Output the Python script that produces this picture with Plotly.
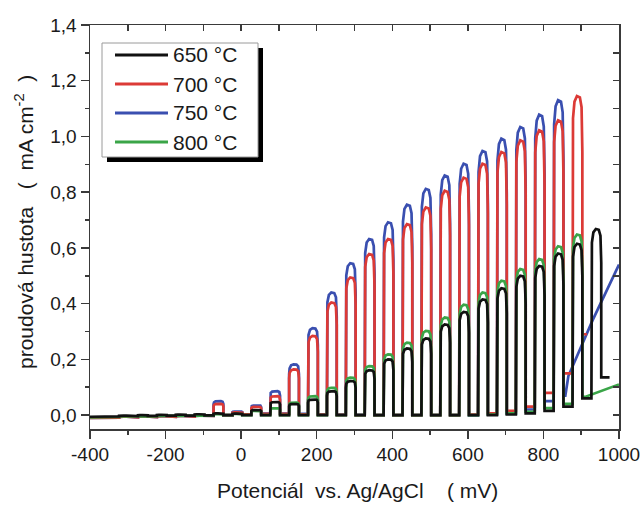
import plotly.graph_objects as go

# ---------------- data ----------------
# centres of the light-on periods of the chopped-light scan (mV vs. Ag/AgCl)
pulse_mv = [-360, -310, -260, -210, -160, -110, -60, -10, 40, 90, 140, 190, 240,
            290, 340, 390, 440, 490, 540, 590, 640, 690, 740, 790, 840, 890, 940]

# 650 °C (black): photocurrent at light-on, dark current before each pulse
black_on = [-0.004, -0.002, 0.0, 0.001, 0.002, 0.003, 0.006, 0.005, 0.018,
            0.047, 0.04, 0.056, 0.086, 0.122, 0.161, 0.2, 0.239, 0.275,
            0.325, 0.37, 0.415, 0.455, 0.5, 0.535, 0.58, 0.615, 0.668]
black_dark = [-0.006, -0.005, -0.004, -0.003, -0.002, -0.002, -0.001, 0.0, 0.0,
              0.0, 0.0, 0.0, 0.0, 0.0, 0.0, 0.0, 0.0, 0.0,
              0.0, 0.0, 0.0, 0.0, 0.002, 0.006, 0.015, 0.03, 0.06]
black_tail_mv = [975]
black_tail = [0.135]

# 700 °C (red)
red_on = [-0.008, -0.006, -0.005, -0.004, -0.003, -0.002, 0.04, 0.01,
          0.03, 0.068, 0.164, 0.284, 0.404, 0.494, 0.578, 0.632, 0.685, 0.745,
          0.805, 0.852, 0.902, 0.944, 0.986, 1.022, 1.058, 1.145]
red_dark = [-0.01, -0.009, -0.008, -0.007, -0.006, -0.005, -0.003, 0.0,
            0.003, 0.004, 0.004, 0.003, 0.002, 0.001, 0.0, 0.0, 0.0, 0.0,
            0.0, 0.0, 0.002, 0.006, 0.015, 0.03, 0.08, 0.15]
red_tail_mv = [915]
red_tail = [0.29]

# 750 °C (blue)
blue_on = [-0.008, -0.006, -0.005, -0.004, -0.003, -0.002, 0.05, 0.013,
           0.035, 0.086, 0.182, 0.312, 0.44, 0.545, 0.632, 0.692, 0.755, 0.812,
           0.86, 0.902, 0.948, 0.992, 1.034, 1.078, 1.13]
blue_dark = [-0.01, -0.009, -0.008, -0.007, -0.006, -0.005, -0.003, 0.0,
             0.003, 0.005, 0.005, 0.004, 0.003, 0.002, 0.001, 0.0, 0.0, 0.0,
             0.0, 0.0, 0.0, 0.002, 0.006, 0.02, 0.05]
blue_tail_mv = [858, 866, 930, 1000]
blue_tail = [0.07, 0.14, 0.34, 0.54]

# 800 °C (green)
green_on = [-0.006, -0.005, -0.004, -0.003, -0.002, -0.001, 0.003, 0.004,
            0.015, 0.025, 0.045, 0.068, 0.098, 0.134, 0.176, 0.218, 0.26, 0.302,
            0.35, 0.396, 0.44, 0.482, 0.524, 0.56, 0.606, 0.648]
green_dark = [-0.008, -0.007, -0.006, -0.005, -0.004, -0.003, -0.002, 0.0,
              0.0, 0.0, 0.0, 0.0, 0.0, 0.0, 0.0, 0.0, 0.0, 0.0,
              0.0, 0.0, 0.0, 0.002, 0.006, 0.012, 0.025, 0.04]
green_tail_mv = [910, 1000]
green_tail = [0.065, 0.11]

series_names = ["650 °C", "700 °C", "750 °C", "800 °C"]
series_colors = ["#111111", "#dc3a36", "#3a4fb0", "#3aa548"]

x_ticks = [-400, -200, 0, 200, 400, 600, 800, 1000]
x_ticktext = ["-400", "-200", "0", "200", "400", "600", "800", "1000"]
y_ticks = [0.0, 0.2, 0.4, 0.6, 0.8, 1.0, 1.2, 1.4]
y_ticktext = ["0,0", "0,2", "0,4", "0,6", "0,8", "1,0", "1,2", "1,4"]

# ---------------- helpers ----------------
SCAN_START = -400
ON_HALF = 13   # half of light-on window, mV
# shape of the photocurrent transient within one light-on window
SHAPE_T = [0.0, 0.05, 0.2, 0.45, 0.75, 0.92, 1.0]
SHAPE_F = [0.8, 0.92, 0.98, 1.0, 0.995, 0.96, 0.8]


def chopped(on, dark, tail_mv, tail_val):
    xs = [SCAN_START]
    ys = [dark[0]]
    n = len(on)
    for i in range(n):
        c = pulse_mv[i]
        p, d = on[i], dark[i]
        left, right = c - ON_HALF, c + ON_HALF
        xs.append(left)
        ys.append(d)
        for t, f in zip(SHAPE_T, SHAPE_F):
            xs.append(left + t * (right - left))
            ys.append(d + f * (p - d))
        nxt = dark[i + 1] if i + 1 < n else tail_val[0]
        xs.append(right)
        ys.append(nxt)
    xs += list(tail_mv)
    ys += list(tail_val)
    return xs, ys


data = [
    (black_on, black_dark, black_tail_mv, black_tail),
    (red_on, red_dark, red_tail_mv, red_tail),
    (blue_on, blue_dark, blue_tail_mv, blue_tail),
    (green_on, green_dark, green_tail_mv, green_tail),
]

fig = go.Figure()
draw_order = [2, 1, 3, 0]  # blue, red, green, black on top
for k in draw_order:
    xs, ys = chopped(*data[k])
    fig.add_trace(go.Scatter(x=xs, y=ys, mode="lines", name=series_names[k],
                             line=dict(color=series_colors[k], width=2.7),
                             showlegend=False, hoverinfo="skip"))

FONT = "Liberation Sans, Arial, Helvetica, sans-serif"
TXT = "#1a1a1a"
AX = "#3a3a3a"
XR = [-400, 1000]
YR = [-0.05, 1.4]

fig.update_layout(
    width=642, height=505,
    margin=dict(l=90, r=23, t=25, b=76, autoexpand=False),
    paper_bgcolor="white", plot_bgcolor="white",
    font=dict(family=FONT, color=TXT),
    xaxis=dict(range=XR, showgrid=False, zeroline=False, showline=True,
               automargin=False,
               linecolor=AX, linewidth=1.5, ticks="outside", ticklen=8,
               tickwidth=1.5, tickcolor=AX, tickvals=x_ticks,
               ticktext=x_ticktext,
               tickfont=dict(size=19, family=FONT, color=TXT),
               minor=dict(dtick=100, tick0=0, ticks="outside", ticklen=4,
                          tickwidth=1.5, tickcolor=AX, showgrid=False)),
    yaxis=dict(range=YR, showgrid=False, zeroline=False, showline=True,
               automargin=False,
               linecolor=AX, linewidth=1.5, ticks="outside", ticklen=8,
               tickwidth=1.5, tickcolor=AX, tickvals=y_ticks,
               ticktext=y_ticktext,
               tickfont=dict(size=19, family=FONT, color=TXT),
               minor=dict(dtick=0.1, tick0=0, ticks="outside", ticklen=4,
                          tickwidth=1.5, tickcolor=AX, showgrid=False)),
    xaxis2=dict(range=XR, overlaying="x", side="top", anchor="y",
                automargin=False,
                showgrid=False, zeroline=False, showline=True, linecolor=AX,
                linewidth=1.5, ticks="inside", ticklen=6, tickwidth=1.5,
                tickcolor=AX, dtick=100, tick0=0, showticklabels=False),
    yaxis2=dict(range=YR, overlaying="y", side="right", anchor="x",
                automargin=False,
                showgrid=False, zeroline=False, showline=True, linecolor=AX,
                linewidth=1.5, ticks="inside", ticklen=6, tickwidth=1.5,
                tickcolor=AX, dtick=0.1, tick0=0, showticklabels=False),
)

# invisible trace so the mirrored axes are drawn
fig.add_trace(go.Scatter(x=[None], y=[None], xaxis="x2", yaxis="y2",
                         showlegend=False, hoverinfo="skip"))

# axis titles
PW, PH = 529.0, 404.0
fig.add_annotation(xref="paper", yref="paper", x=(357 - 90) / PW,
                   y=(429 - 491) / PH, xanchor="center", yanchor="middle",
                   showarrow=False,
                   text="Potenciál\u00a0 vs. Ag/AgCl\u00a0\u00a0\u00a0 (\u00a0mV)",
                   font=dict(size=21, family=FONT, color=TXT))
fig.add_annotation(xref="paper", yref="paper", x=(24 - 90) / PW,
                   y=(429 - 222) / PH, xanchor="center", yanchor="middle",
                   showarrow=False, textangle=-90,
                   text="proudová hustota\u00a0\u00a0 (\u00a0 mA cm<sup>-2</sup>\u00a0 )",
                   font=dict(size=21, family=FONT, color=TXT))


# legend drawn manually (box with drop shadow)
def px(xp):
    return (xp - 90) / PW


def py(yp):
    return (429 - yp) / PH


fig.add_shape(type="rect", xref="paper", yref="paper",
              x0=px(107), x1=px(263), y0=py(162), y1=py(48),
              fillcolor="black", line=dict(width=0), layer="above")
fig.add_shape(type="rect", xref="paper", yref="paper",
              x0=px(102), x1=px(258), y0=py(157), y1=py(43),
              fillcolor="white", line=dict(color="#9a9a9a", width=1),
              layer="above")
legend_y = [55, 84, 113, 142]
for i in range(4):
    fig.add_shape(type="line", xref="paper", yref="paper",
                  x0=px(115), x1=px(168), y0=py(legend_y[i]), y1=py(legend_y[i]),
                  line=dict(color=series_colors[i], width=3), layer="above")
    fig.add_annotation(xref="paper", yref="paper", x=px(171), y=py(legend_y[i]),
                       xanchor="left", yanchor="middle", showarrow=False,
                       text=series_names[i],
                       font=dict(size=21, family=FONT, color=TXT))

fig.write_html("out.html",
               config={"displayModeBar": False, "staticPlot": True},
               post_script="document.body.style.margin='0';"
                           "document.body.style.padding='0';"
                           "document.body.style.overflow='hidden';")
